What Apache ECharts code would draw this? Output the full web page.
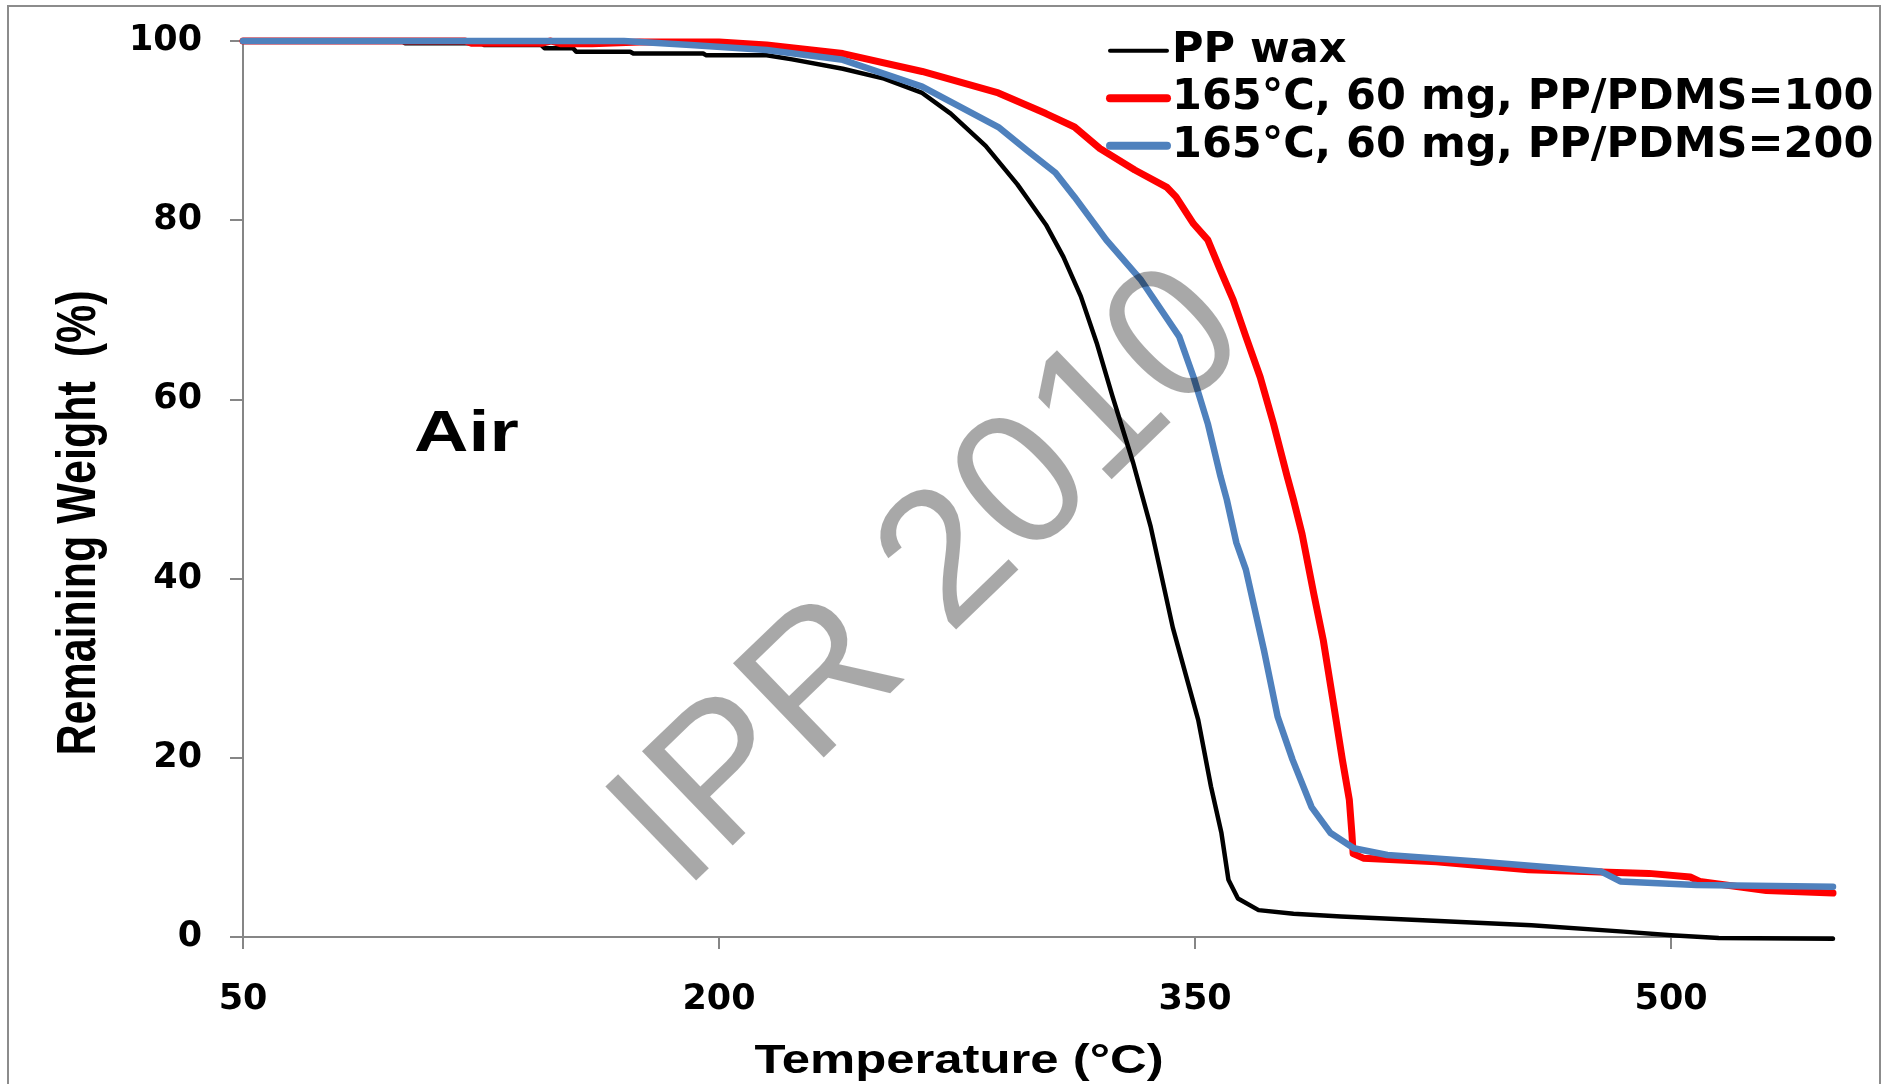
<!DOCTYPE html>
<html>
<head>
<meta charset="utf-8">
<script src="https://cdn.jsdelivr.net/npm/echarts@6/dist/echarts.min.js"></script>
<style>
  html, body { margin: 0; padding: 0; background: #ffffff; }
  #chart { width: 1894px; height: 1084px; }
</style>
</head>
<body>
<div id="chart"></div>
<script>
// TGA curves in air: remaining weight (%) against temperature (°C)
const waxTemp   = [50, 100, 101, 125, 126, 144, 145, 154, 155, 172, 173, 195, 196, 215, 223, 239, 252, 264, 273, 284, 294, 297, 303, 308.5, 314, 319, 324, 330.5, 336, 343, 351, 355, 358.3, 360.5, 363.5, 370, 381, 396, 420, 456, 485, 500, 515, 551];
const waxWeight = [100, 100, 99.75, 99.75, 99.55, 99.55, 99.2, 99.2, 98.8, 98.8, 98.6, 98.6, 98.4, 98.4, 97.95, 96.9, 95.8, 94.2, 91.9, 88.3, 84.0, 82.5, 79.5, 75.9, 71.5, 66.3, 60.3, 52.9, 45.8, 34.5, 24.2, 16.8, 11.6, 6.4, 4.3, 3.0, 2.6, 2.3, 1.9, 1.3, 0.6, 0.2, -0.1, -0.2];

const r100Temp   = [50, 120, 122, 144, 147, 150, 160, 175, 200, 215, 239, 264, 288, 303, 312, 320, 331, 341, 344, 349.5, 354, 358, 362, 366, 370.5, 374.7, 379, 381, 383.7, 387.4, 390.4, 393.4, 396.4, 398.6, 399.4, 399.8, 403, 426, 455, 493, 506, 509, 530, 551];
const r100Weight = [100, 100, 99.75, 99.75, 100, 99.7, 99.7, 99.9, 99.9, 99.55, 98.6, 96.6, 94.2, 91.9, 90.4, 88.0, 85.6, 83.7, 82.6, 79.6, 77.8, 74.4, 71.1, 67.0, 62.5, 57.3, 51.4, 48.8, 45.0, 38.3, 33.1, 26.5, 19.8, 15.3, 11.6, 9.3, 8.8, 8.4, 7.5, 7.1, 6.7, 6.2, 5.2, 4.9];

const r200Temp   = [50, 170, 191, 215, 239, 264, 288, 297, 306, 312, 322, 333, 345, 349.5, 354, 358, 360, 363, 366, 371.7, 376, 380.7, 386.7, 392.7, 400, 410.6, 440, 478, 484, 508, 551];
const r200Weight = [100, 100, 99.55, 99.0, 97.9, 94.9, 90.4, 87.8, 85.3, 82.6, 77.8, 73.3, 67.0, 62.5, 57.3, 51.4, 48.8, 44.0, 41.0, 32.0, 24.6, 19.8, 14.5, 11.6, 9.9, 9.15, 8.4, 7.3, 6.2, 5.8, 5.6];

const seriesNames = ['PP wax', '165°C, 60 mg, PP/PDMS=100', '165°C, 60 mg, PP/PDMS=200'];
const seriesColors = ['#000000', '#ff0000', '#4f81bd'];
const xTicks = [50, 200, 350, 500];

function pairs(xs, ys) { return xs.map((x, i) => [x, ys[i]]); }

const chart = echarts.init(document.getElementById('chart'), null, { renderer: 'canvas' });

const axisGray = '#868686';
const labelFont = { color: '#000', fontSize: 35, fontWeight: 'bold', fontFamily: '"DejaVu Sans"' };

function lineSeries(i, temps, weights, width) {
  return {
    name: seriesNames[i], type: 'line', data: pairs(temps, weights),
    showSymbol: false, symbol: 'none', clip: false,
    lineStyle: { color: seriesColors[i], width: width, join: 'round', cap: 'round' },
    itemStyle: { color: seriesColors[i] }
  };
}

chart.setOption({
  animation: false,
  backgroundColor: '#ffffff',
  grid: { left: 243, right: 61, top: 41, bottom: 147, containLabel: false },
  xAxis: {
    type: 'value', min: 50, max: 551,
    axisLine: { show: true, lineStyle: { color: axisGray, width: 2 } },
    axisTick: { show: true, inside: false, length: 12, customValues: xTicks, lineStyle: { color: axisGray, width: 2 } },
    axisLabel: Object.assign({ margin: 45, customValues: xTicks }, labelFont),
    splitLine: { show: false }
  },
  yAxis: {
    type: 'value', min: 0, max: 100, interval: 20,
    axisLine: { show: true, lineStyle: { color: axisGray, width: 2 } },
    axisTick: { show: true, inside: false, length: 13, lineStyle: { color: axisGray, width: 2 } },
    axisLabel: Object.assign({ margin: 41 }, labelFont),
    splitLine: { show: false }
  },
  legend: {
    orient: 'vertical', left: 1106, top: 27, itemGap: 0, padding: 0,
    itemWidth: 57, itemHeight: 14,
    textStyle: { color: '#000', fontSize: 43, fontWeight: 'bold', fontFamily: '"DejaVu Sans"', lineHeight: 47.5 },
    data: [
      { name: seriesNames[0], lineStyle: { width: 4 }, itemStyle: { opacity: 0 } },
      { name: seriesNames[1], lineStyle: { width: 8 }, itemStyle: { opacity: 0 } },
      { name: seriesNames[2], lineStyle: { width: 8 }, itemStyle: { opacity: 0 } }
    ]
  },
  series: [
    lineSeries(0, waxTemp, waxWeight, 4.5),
    lineSeries(1, r100Temp, r100Weight, 7),
    lineSeries(2, r200Temp, r200Weight, 6.5)
  ],
  graphic: [
    { type: 'rect', silent: true, z: -10,
      shape: { x: 8, y: 6, width: 1872, height: 1100 },
      style: { fill: 'none', stroke: '#8c8c8c', lineWidth: 2 } },
    { type: 'group', x: 414, y: 435, scaleX: 1.3, children: [
      { type: 'text', style: { text: 'Air', fill: '#000', fontSize: 58, fontWeight: 'bold', fontFamily: '"Liberation Sans"', align: 'left', verticalAlign: 'middle' } }
    ] },
    { type: 'group', x: 959, y: 1062, scaleX: 1.24, children: [
      { type: 'text', style: { text: 'Temperature (°C)', fill: '#000', fontSize: 41, fontWeight: 'bold', fontFamily: '"Liberation Sans"', align: 'center', verticalAlign: 'middle' } }
    ] },
    { type: 'group', x: 80, y: 523, scaleX: 1.28, children: [
      { type: 'text', rotation: Math.PI / 2, style: { text: 'Remaining Weight  (%)', fill: '#000', fontSize: 43, fontWeight: 'bold', fontFamily: '"Liberation Sans"', align: 'center', verticalAlign: 'middle' } }
    ] },
    { type: 'text', x: 932, y: 580, rotation: 44 * Math.PI / 180, z: 100, silent: true,
      style: { text: 'IPR 2010', fill: 'rgba(0,0,0,0.34)', fontSize: 190, fontFamily: '"Liberation Sans"', align: 'center', verticalAlign: 'middle' } }
  ]
});
</script>
</body>
</html>
